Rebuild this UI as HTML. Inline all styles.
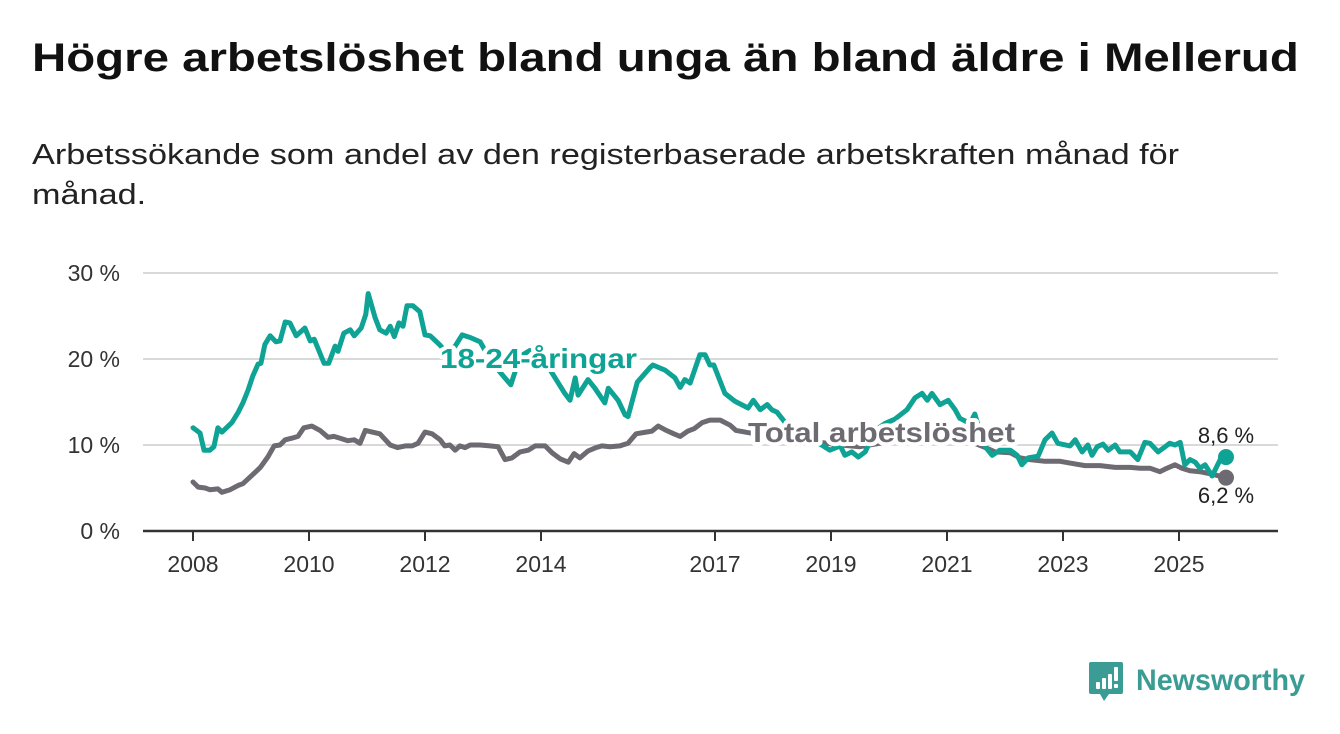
<!DOCTYPE html>
<html><head><meta charset="utf-8">
<style>
body{margin:0;background:#fff;font-family:"Liberation Sans",sans-serif;}
#wrap{position:relative;width:1340px;height:734px;overflow:hidden;}
h1{position:absolute;left:32px;top:36px;margin:0;font-size:40px;font-weight:bold;color:#111;white-space:nowrap;transform:scaleX(1.185);transform-origin:0 0;}
p.sub{position:absolute;left:32px;top:135px;margin:0;font-size:29px;line-height:40px;color:#222;white-space:nowrap;transform:scaleX(1.18);transform-origin:0 0;}
svg{position:absolute;left:0;top:0;}
</style></head><body>
<div id="wrap">
<h1>Högre arbetslöshet bland unga än bland äldre i Mellerud</h1>
<p class="sub">Arbetssökande som andel av den registerbaserade arbetskraften månad för<br>månad.</p>
<svg id="chart" width="1340" height="734"></svg>
</div>
<script>
const yTicks=[0,10,20,30];
const xTickYears=[2008,2010,2012,2014,2017,2019,2021,2023,2025];
const youthDates=[2008.00,2008.12,2008.19,2008.29,2008.36,2008.43,2008.50,2008.67,2008.78,2008.86,2008.95,2009.03,2009.12,2009.17,2009.24,2009.33,2009.43,2009.50,2009.59,2009.67,2009.78,2009.93,2010.02,2010.09,2010.26,2010.34,2010.45,2010.50,2010.60,2010.71,2010.78,2010.90,2010.98,2011.02,2011.14,2011.22,2011.33,2011.40,2011.47,2011.55,2011.62,2011.69,2011.79,2011.91,2012.00,2012.09,2012.26,2012.36,2012.52,2012.64,2012.78,2012.95,2013.12,2013.29,2013.48,2013.64,2013.81,2013.98,2014.16,2014.41,2014.50,2014.59,2014.64,2014.81,2014.93,2015.10,2015.16,2015.33,2015.45,2015.50,2015.66,2015.88,2015.93,2016.14,2016.31,2016.40,2016.48,2016.57,2016.74,2016.83,2016.91,2016.98,2017.17,2017.34,2017.57,2017.66,2017.78,2017.90,2017.98,2018.07,2018.21,2018.38,2018.55,2018.72,2018.84,2018.98,2019.16,2019.24,2019.36,2019.47,2019.59,2019.76,2019.93,2020.10,2020.31,2020.45,2020.57,2020.66,2020.74,2020.88,2021.02,2021.14,2021.22,2021.40,2021.48,2021.57,2021.67,2021.78,2021.91,2022.09,2022.21,2022.29,2022.40,2022.57,2022.69,2022.81,2022.91,2023.12,2023.21,2023.33,2023.43,2023.50,2023.59,2023.69,2023.78,2023.90,2023.98,2024.16,2024.29,2024.41,2024.50,2024.64,2024.76,2024.84,2024.93,2025.02,2025.10,2025.19,2025.28,2025.36,2025.45,2025.57,2025.71,2025.81];
const youthValues=[12.0,11.4,9.4,9.4,9.8,12.0,11.5,12.6,13.8,14.9,16.4,18.0,19.4,19.5,21.7,22.7,22.0,22.1,24.3,24.2,22.7,23.6,22.1,22.3,19.5,19.5,21.5,20.9,23.0,23.4,22.7,23.6,25.2,27.6,24.8,23.4,23.0,23.8,22.6,24.2,23.8,26.2,26.2,25.5,22.8,22.7,21.6,20.8,21.5,22.8,22.5,22.0,20.0,18.5,17.0,20.3,21.0,20.5,18.7,16.0,15.2,17.8,15.8,17.6,16.6,14.9,16.6,15.2,13.5,13.3,17.3,19.0,19.3,18.7,17.8,16.7,17.6,17.2,20.5,20.5,19.3,19.3,16.0,15.1,14.3,15.2,14.1,14.7,14.1,13.8,12.6,11.8,11.0,10.4,10.0,9.4,9.9,8.8,9.2,8.6,9.2,11.7,12.5,13.0,14.1,15.5,16.0,15.2,16.0,14.7,15.2,14.1,13.1,12.5,13.6,11.5,9.7,8.8,9.4,9.4,8.8,7.7,8.5,8.7,10.6,11.4,10.2,9.9,10.6,9.2,10.0,8.8,9.8,10.1,9.4,10.0,9.2,9.2,8.3,10.3,10.2,9.2,9.8,10.2,10.0,10.3,7.7,8.3,8.0,7.3,7.7,6.4,8.3,8.6];
const totalDates=[2008.00,2008.09,2008.21,2008.29,2008.43,2008.50,2008.64,2008.78,2008.86,2009.02,2009.16,2009.29,2009.40,2009.50,2009.59,2009.71,2009.81,2009.91,2010.05,2010.19,2010.33,2010.43,2010.53,2010.67,2010.78,2010.88,2010.97,2011.09,2011.22,2011.40,2011.53,2011.66,2011.78,2011.88,2012.00,2012.12,2012.26,2012.34,2012.43,2012.52,2012.60,2012.69,2012.78,2012.95,2013.12,2013.26,2013.38,2013.50,2013.64,2013.78,2013.90,2014.07,2014.19,2014.33,2014.47,2014.57,2014.67,2014.81,2014.95,2015.05,2015.19,2015.36,2015.50,2015.64,2015.81,2015.91,2016.02,2016.16,2016.29,2016.40,2016.53,2016.64,2016.78,2016.91,2017.09,2017.26,2017.36,2017.52,2017.78,2018.12,2018.47,2018.81,2019.16,2019.50,2019.84,2020.19,2020.53,2020.88,2021.22,2021.48,2021.66,2021.83,2022.09,2022.26,2022.43,2022.69,2022.95,2023.12,2023.38,2023.64,2023.90,2024.16,2024.33,2024.50,2024.67,2024.76,2024.93,2025.05,2025.19,2025.36,2025.57,2025.81];
const totalValues=[5.7,5.1,5.0,4.8,4.9,4.5,4.8,5.3,5.5,6.5,7.4,8.6,9.9,10.0,10.6,10.8,11.0,12.0,12.2,11.7,10.9,11.0,10.8,10.5,10.6,10.2,11.7,11.5,11.3,10.0,9.7,9.9,9.9,10.2,11.5,11.3,10.6,9.9,10.0,9.4,9.9,9.7,10.0,10.0,9.9,9.8,8.3,8.5,9.2,9.4,9.9,9.9,9.1,8.4,8.0,9.0,8.5,9.3,9.7,9.9,9.8,9.9,10.2,11.3,11.5,11.6,12.2,11.7,11.3,11.0,11.6,11.9,12.6,12.9,12.9,12.3,11.7,11.5,11.2,11.0,10.6,10.3,10.0,9.8,10.2,11.3,11.5,11.0,10.5,10.2,9.7,9.2,9.1,8.5,8.3,8.1,8.1,7.9,7.6,7.6,7.4,7.4,7.3,7.3,6.9,7.2,7.7,7.3,7.0,6.9,6.6,6.2];

const NS='http://www.w3.org/2000/svg';
const svg=document.getElementById('chart');
const X0=143,X1=1278,Y0=531;
const xs=y=>193+(y-2008)*58;
const ys=v=>Y0-v*8.6;
function mk(tag,attrs,parent){const e=document.createElementNS(NS,tag);for(const k in attrs)e.setAttribute(k,attrs[k]);(parent||svg).appendChild(e);return e;}

yTicks.forEach(t=>{
  if(t>0){const g=mk('line',{x1:X0,x2:X1,y1:ys(t),y2:ys(t),stroke:'#d9d9d9','stroke-width':2});
  
  }
  const l=mk('text',{x:120,y:ys(t)+8,'text-anchor':'end','font-size':23,fill:'#333','font-family':'Liberation Sans, sans-serif'});
  l.textContent=t+' %';
  
  
});
const ax=mk('line',{x1:X0,x2:X1,y1:Y0,y2:Y0,stroke:'#333','stroke-width':2.5});


xTickYears.forEach(yr=>{
  const tk=mk('line',{x1:xs(yr),x2:xs(yr),y1:Y0,y2:Y0+10,stroke:'#333','stroke-width':2});
  
  
  const l=mk('text',{x:xs(yr),y:572,'text-anchor':'middle','font-size':23,fill:'#333','font-family':'Liberation Sans, sans-serif'});
  l.textContent=yr;
  
  
});
function line(d,v,color,name){
  const p=d.map((t,i)=>(i?'L':'M')+xs(t).toFixed(1)+','+ys(v[i]).toFixed(1)).join('');
  const e=mk('path',{d:p,fill:'none',stroke:color,'stroke-width':5,'stroke-linejoin':'round','stroke-linecap':'round'});
  
  
  const n=d.length-1;
  const c=mk('circle',{cx:xs(d[n]),cy:ys(v[n]),r:8,fill:color});
  
  
}
const TEAL='#0ea394',GREY='#6d6a72';
line(totalDates,totalValues,GREY,'total-line');
line(youthDates,youthValues,TEAL,'youth-line');
function label(txt,x,y,color,name,size,anchor,bold,len){
  const a={x:x,y:y,'font-size':size,'font-weight':bold?'bold':'normal',fill:color,'text-anchor':anchor||'start',stroke:'#fff','stroke-width':bold?8:0,'paint-order':'stroke','stroke-linejoin':'round','font-family':'Liberation Sans, sans-serif'};
  if(len){a.textLength=len;a.lengthAdjust='spacingAndGlyphs';}
  const t=mk('text',a);
  t.textContent=txt;
  
  
}
label('18-24-åringar',440,368,TEAL,'youth-series-label',28,'start',true,197);
label('Total arbetslöshet',748,442,GREY,'total-series-label',28,'start',true,267);
const ny=youthValues.length-1, nt=totalValues.length-1;
label(String(youthValues[ny]).replace('.',',')+' %',1226,443,'#222','youth-end-value',22,'middle',false);
label(String(totalValues[nt]).replace('.',',')+' %',1226,503,'#222','total-end-value',22,'middle',false);

// logo
const g=mk('g',{transform:'translate(1089,662)'});


mk('path',{d:'M2,0H32a2,2 0 0 1 2,2V30a2,2 0 0 1-2,2H20L15,39L11,32H2a2,2 0 0 1-2-2V2a2,2 0 0 1 2-2Z',fill:'#3a9c95'},g);
[[7,20,4,7],[13,16,4,11],[19,12,4,15],[25,5,4,14]].forEach(r=>mk('rect',{x:r[0],y:r[1],width:r[2],height:r[3],fill:'#fff',rx:1},g));
mk('rect',{x:25,y:22,width:4,height:4,fill:'#fff',rx:1},g);
const lt=mk('text',{x:47,y:28,'font-size':30,'font-weight':'bold',fill:'#3a9c95','font-family':'Liberation Sans, sans-serif',textLength:169,lengthAdjust:'spacingAndGlyphs'},g);
lt.textContent='Newsworthy';
</script>
</body></html>
